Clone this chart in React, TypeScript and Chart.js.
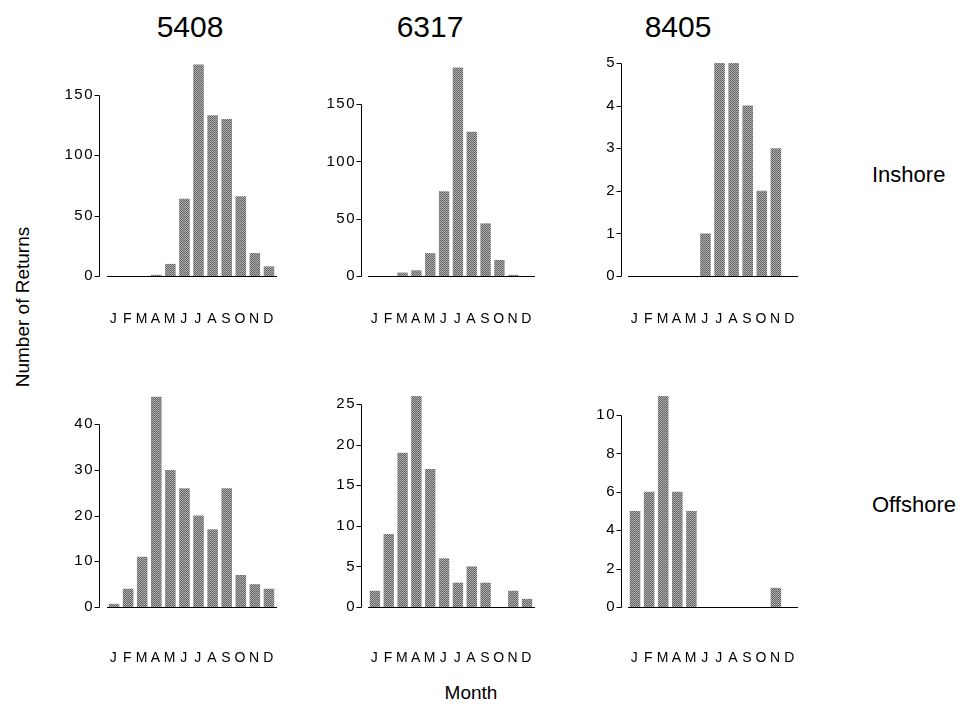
import React, { useEffect, useRef } from 'react';
import { Chart, registerables } from 'chart.js';
Chart.register(...registerables);

const months = ['J', 'F', 'M', 'A', 'M', 'J', 'J', 'A', 'S', 'O', 'N', 'D'];
const stations = ['5408', '6317', '8405'];
const zones = ['Inshore', 'Offshore'];
const inshore5408 = [0, 0, 0, 1, 10, 64, 175, 133, 130, 66, 19, 8];
const inshore6317 = [0, 0, 3, 5, 20, 74, 182, 126, 46, 14, 1, 0];
const inshore8405 = [0, 0, 0, 0, 0, 1, 5, 5, 4, 2, 3, 0];
const offshore5408 = [0.7, 4, 11, 46, 30, 26, 20, 17, 26, 7, 5, 4];
const offshore6317 = [2, 9, 19, 26, 17, 6, 3, 5, 3, 0, 2, 1];
const offshore8405 = [5, 6, 11, 6, 5, 0, 0, 0, 0, 0, 1, 0];
const yMaxes = [175.5, 186, 5, 46.4, 26.25, 11.1];
const ySteps = [50, 50, 1, 10, 5, 2];
const seriesList = [inshore5408, inshore6317, inshore8405, offshore5408, offshore6317, offshore8405];

const FONT = "'Liberation Sans', Arial, Helvetica, sans-serif";

const cols = [
  { canvasLeft: 40, areaLeft: 107, areaRight: 276, gap: 8 },
  { canvasLeft: 300, areaLeft: 368, areaRight: 534, gap: 7 },
  { canvasLeft: 560, areaLeft: 628, areaRight: 797, gap: 7 },
];
const rows = [
  { areaTop: 62, areaBottom: 276, labelDrop: 35 },
  { areaTop: 393, areaBottom: 607, labelDrop: 43 },
];
const PAD_TOP = 20;
const X_H = 70;
const PAD_RIGHT = 6;

const stubAxis = {
  id: 'stubAxis',
  beforeDraw(chart: any) {
    chart.ctx.save();
    (chart.ctx as any).letterSpacing = '1.5px';
  },
  afterDraw(chart: any, _args: any, opts: any) {
    chart.ctx.restore();
    const y = chart.scales.y;
    const ctx = chart.ctx;
    const ticks = y.ticks;
    if (!ticks.length) return;
    const x = Math.round(chart.chartArea.left - opts.gap) + 0.5;
    const top = Math.round(y.getPixelForValue(ticks[ticks.length - 1].value)) + 0.5;
    const bottom = Math.round(y.getPixelForValue(0)) + 0.5;
    ctx.save();
    ctx.strokeStyle = '#000';
    ctx.lineWidth = 1;
    ctx.beginPath();
    ctx.moveTo(x, bottom);
    ctx.lineTo(x, top);
    for (const t of ticks) {
      const py = Math.round(y.getPixelForValue(t.value)) + 0.5;
      ctx.moveTo(x - 5, py);
      ctx.lineTo(x, py);
    }
    ctx.stroke();
    ctx.restore();
  },
};

function makePattern(): CanvasPattern | string {
  const c = document.createElement('canvas');
  c.width = 2;
  c.height = 2;
  const g = c.getContext('2d');
  if (!g) return '#888';
  g.fillStyle = '#5e5e5e';
  g.fillRect(0, 0, 1, 1);
  g.fillStyle = '#a8a8a8';
  g.fillRect(1, 0, 1, 1);
  g.fillStyle = '#b4b4b4';
  g.fillRect(0, 1, 1, 1);
  g.fillStyle = '#6c6c6c';
  g.fillRect(1, 1, 1, 1);
  const p = g.createPattern(c, 'repeat');
  return p || '#888';
}

function Panel({ index }: { index: number }) {
  const ref = useRef<HTMLCanvasElement>(null);
  const col = cols[index % 3];
  const row = rows[Math.floor(index / 3)];
  const width = col.areaRight + PAD_RIGHT - col.canvasLeft;
  const height = PAD_TOP + (row.areaBottom - row.areaTop) + X_H;
  const yW = col.areaLeft - col.canvasLeft;

  useEffect(() => {
    if (!ref.current) return;
    const step = ySteps[index];
    const chart = new Chart(ref.current, {
      type: 'bar',
      data: {
        labels: months,
        datasets: [
          {
            data: seriesList[index],
            backgroundColor: makePattern() as any,
            borderWidth: 0,
            barPercentage: 0.75,
            categoryPercentage: 1,
          },
        ],
      },
      options: {
        animation: false,
        responsive: false,
        maintainAspectRatio: false,
        layout: { padding: { top: PAD_TOP, right: PAD_RIGHT, left: 0, bottom: 0 } },
        plugins: {
          legend: { display: false },
          tooltip: { enabled: false },
          title: { display: false },
          stubAxis: { gap: col.gap },
        } as any,
        scales: {
          x: {
            type: 'category',
            offset: true,
            grid: { display: false, drawTicks: true, tickLength: row.labelDrop },
            border: { display: true, color: '#000', width: 1 },
            ticks: {
              color: '#000',
              font: { family: FONT, size: 14 },
              padding: 0,
              maxRotation: 0,
              autoSkip: false,
            },
            afterFit: (s: any) => {
              s.height = X_H;
            },
          },
          y: {
            type: 'linear',
            min: 0,
            max: yMaxes[index],
            grid: { display: false, drawTicks: false },
            border: { display: false },
            ticks: {
              stepSize: step,
              includeBounds: false,
              color: '#000',
              font: { family: FONT, size: 15 },
              padding: col.gap + 5,
            },
            afterBuildTicks: (s: any) => {
              s.ticks = s.ticks.filter(
                (t: any) => Math.abs(t.value / step - Math.round(t.value / step)) < 1e-6
              );
            },
            afterFit: (s: any) => {
              s.width = yW;
            },
          },
        },
      },
      plugins: [stubAxis],
    });
    return () => chart.destroy();
  }, [index]);

  return (
    <canvas
      ref={ref}
      width={width}
      height={height}
      style={{
        position: 'absolute',
        left: col.canvasLeft,
        top: row.areaTop - PAD_TOP,
        width,
        height,
        display: 'block',
      }}
    />
  );
}

const textBase: React.CSSProperties = {
  position: 'absolute',
  fontFamily: FONT,
  color: '#000',
  whiteSpace: 'nowrap',
  transform: 'translate(-50%, -50%)',
  lineHeight: 1,
};

export default function App() {
  const titleX = [190, 430, 678];
  const zoneY = [175, 505];
  return (
    <div
      style={{
        position: 'absolute',
        left: 0,
        top: 0,
        width: 973,
        height: 709,
        background: '#fff',
        overflow: 'hidden',
      }}
    >
      {stations.map((s, i) => (
        <div key={s} style={{ ...textBase, left: titleX[i], top: 27, fontSize: 30 }}>
          {s}
        </div>
      ))}
      {zones.map((z, i) => (
        <div key={z} style={{ ...textBase, left: 872, top: zoneY[i], fontSize: 22, transform: 'translate(0, -50%)' }}>
          {z}
        </div>
      ))}
      <div style={{ ...textBase, left: 22, top: 307, fontSize: 19, transform: 'translate(-50%, -50%) rotate(-90deg)' }}>
        Number of Returns
      </div>
      <div style={{ ...textBase, left: 471, top: 692, fontSize: 19 }}>Month</div>
      {[0, 1, 2, 3, 4, 5].map((i) => (
        <Panel key={i} index={i} />
      ))}
    </div>
  );
}
